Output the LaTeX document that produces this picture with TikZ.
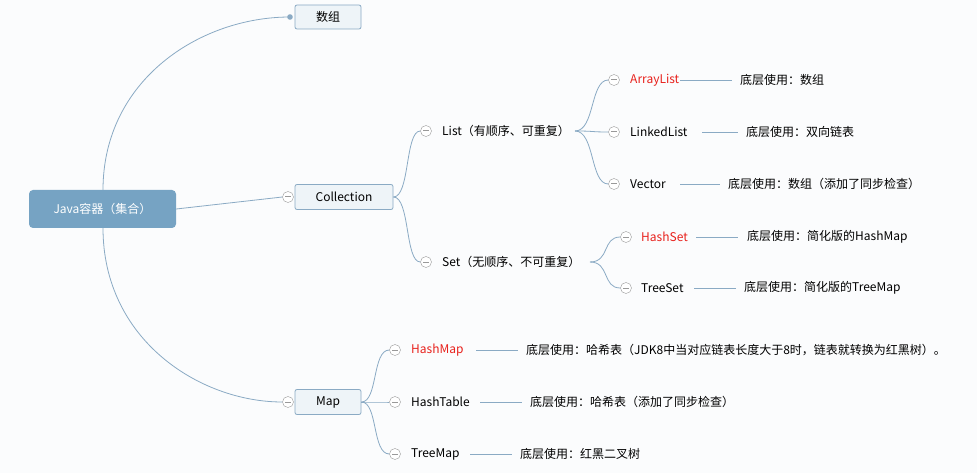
\documentclass[tikz,border=0pt]{standalone}
\usepackage{fontspec}
\setmainfont{Noto Sans CJK SC}
\begin{document}
\begin{tikzpicture}[x=1pt,y=-1pt,font=\fontsize{12}{13}\selectfont,
  ln/.style={draw=lc,line width=0.8pt},
  box/.style={draw=lc,fill=bf,rounded corners=2pt,line width=0.8pt,inner sep=0pt},
  col/.style={circle,draw=gray!80,fill=white,minimum size=11pt,inner sep=0pt,path picture={\draw[gray!80,line width=1pt]([xshift=-3pt]path picture bounding box.center)--([xshift=3pt]path picture bounding box.center);}},
  lbl/.style={anchor=west,inner sep=0pt},
  redt/.style={text=rt},
  nrm/.style={}]
\definecolor{lc}{HTML}{8AAAC4}\definecolor{bf}{HTML}{EEF4F8}\definecolor{rt}{HTML}{E8211C}
\definecolor{bg}{HTML}{FBFCFD}\definecolor{rb}{HTML}{76A3C3}
\fill[bg] (0,0) rectangle (977,473);
\useasboundingbox (0,0) rectangle (977,473);
\node[fill=rb,rounded corners=4pt,minimum width=147pt,minimum height=38pt,text=white] (root) at (102.5,209) {Java容器（集合）};
\node[box,minimum width=66pt,minimum height=24pt] (arr) at (328,17) {数组};
\node[box,minimum width=98pt,minimum height=25pt] (coll) at (344,197) {Collection};
\node[box,minimum width=66pt,minimum height=25pt] (map) at (328,402) {Map};
\coordinate (dot) at (290,17);
\fill[lc] (dot) circle (2.8pt);
\draw[ln] (103,190) .. controls (103,80) and (200,17) .. (dot);
\node[col] (cc) at (288,197) {};
\node[col] (cm) at (288,402) {};
\draw[ln] (root.east) -- (cc.west);
\draw[ln] (103,228) .. controls (103,340) and (200,402) .. (cm.west);
\node[col] (cl) at (426,131) {}; \node[lbl] (list) at (442,131) {List（有顺序、可重复）};
\node[col] (cs) at (426,262) {}; \node[lbl] (set) at (442,262) {Set（无顺序、不可重复）};
\draw[ln] (coll.east) .. controls (410,197) and (405,131) .. (cl.west);
\draw[ln] (coll.east) .. controls (410,197) and (405,262) .. (cs.west);
\foreach \n/\y/\t/\s/\la/\lb/\tx/\d in {a/80/ArrayList/redt/680/732/740/底层使用：数组,
  b/132/LinkedList/nrm/702/738/746/底层使用：双向链表,
  c/184/Vector/nrm/680/720/728/底层使用：数组（添加了同步检查）}{
  \node[col] (c\n) at (614,\y) {};
  \node[lbl,\s] (t\n) at (630,\y) {\t};
  \coordinate (p\n) at (\la,\y); \coordinate (q\n) at (\lb,\y);
  \draw[ln] (p\n) -- (q\n);
  \node[lbl] (d\n) at (\tx,\y) {\d};
  \draw[ln] (575,131) .. controls (595,131) and (590,\y) .. (c\n.west);
}
\foreach \n/\y/\t/\s/\la/\lb/\tx/\d in {d/237/HashSet/redt/696/738/747/底层使用：简化版的HashMap,
  e/288/TreeSet/nrm/694/736/744/底层使用：简化版的TreeMap}{
  \node[col] (c\n) at (626,\y) {};
  \node[lbl,\s] (t\n) at (641,\y) {\t};
  \coordinate (p\n) at (\la,\y); \coordinate (q\n) at (\lb,\y);
  \draw[ln] (p\n) -- (q\n);
  \node[lbl] (d\n) at (\tx,\y) {\d};
  \draw[ln] (590,262) .. controls (610,262) and (602,\y) .. (c\n.west);
}
\foreach \n/\y/\t/\s/\la/\lb/\tx/\d in {f/350/HashMap/redt/476/518/526/底层使用：哈希表（JDK8中当对应链表长度大于8时，链表就转换为红黑树）。,
  g/402/HashTable/nrm/480/522/530/底层使用：哈希表（添加了同步检查）,
  h/454/TreeMap/nrm/470/512/520/底层使用：红黑二叉树}{
  \node[col] (c\n) at (395,\y) {};
  \node[lbl,\s] (t\n) at (411,\y) {\t};
  \coordinate (p\n) at (\la,\y); \coordinate (q\n) at (\lb,\y);
  \draw[ln] (p\n) -- (q\n);
  \node[lbl] (d\n) at (\tx,\y) {\d};
  \draw[ln] (map.east) .. controls (378,402) and (372,\y) .. (c\n.west);
}
\end{tikzpicture}
\end{document}
